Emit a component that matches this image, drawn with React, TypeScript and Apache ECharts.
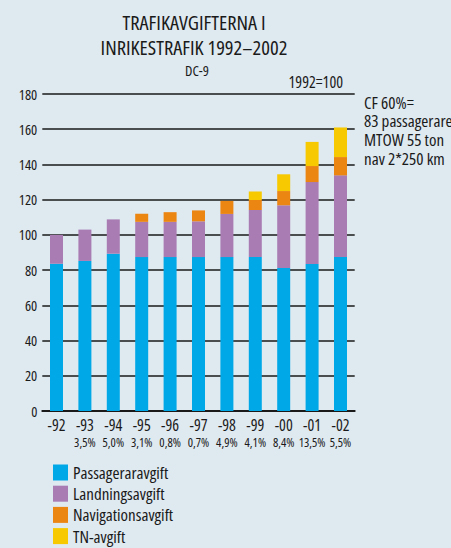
import React, { useEffect, useRef } from "react";
import * as echarts from "echarts";

const years = ["-92", "-93", "-94", "-95", "-96", "-97", "-98", "-99", "-00", "-01", "-02"];
const changes = ["", "3,5%", "5,0%", "3,1%", "0,8%", "0,7%", "4,9%", "4,1%", "8,4%", "13,5%", "5,5%"];
const passagerar = [83.6, 85.2, 89.3, 87.4, 87.4, 87.4, 87.4, 87.4, 81.2, 83.5, 87.4];
const landning = [16.4, 17.8, 19.5, 20.0, 20.0, 20.3, 24.5, 26.7, 35.6, 46.5, 46.4];
const navigation = [0, 0, 0, 4.6, 5.5, 6.2, 7.4, 5.7, 8.1, 9.1, 10.4];
const tn = [0, 0, 0, 0, 0, 0, 0, 4.8, 9.5, 13.7, 16.8];
const yTicks = [0, 20, 40, 60, 80, 100, 120, 140, 160, 180];
const seriesNames = ["Passageraravgift", "Landningsavgift", "Navigationsavgift", "TN-avgift"];
const seriesColors = ["#00a8e8", "#a97db4", "#ec8613", "#f6c900"];
const noteLines = ["CF 60%=", "83 passagerare", "MTOW 55 ton", "nav 2*250 km"];

const FONT = "'Open Sans', sans-serif";
const INK = "#1a1a1a";

export default function App() {
  const ref = useRef<HTMLDivElement>(null);
  useEffect(() => {
    if (!ref.current) return;
    const chart = echarts.init(ref.current, null, { renderer: "svg" });
    const data = [passagerar, landning, navigation, tn];
    const txt = (text: string, x: number, y: number, size: number, align: string) => ({
      type: "text",
      x,
      y,
      style: { text, fontFamily: FONT, fontSize: size, fill: INK, align, verticalAlign: "middle" },
    });
    chart.setOption({
      animation: false,
      backgroundColor: "#dfe9f0",
      textStyle: { fontFamily: FONT },
      grid: { left: 42.3, right: 96.3, top: 94, bottom: 137 },
      xAxis: {
        type: "category",
        data: years,
        boundaryGap: true,
        axisLine: { lineStyle: { color: INK, width: 2 } },
        axisTick: {
          inside: true,
          length: 7,
          lineStyle: { color: INK, width: 1.5 },
          interval: (i: number) => i > 0,
        },
        axisLabel: {
          interval: 0,
          margin: 4,
          formatter: (v: string, i: number) => `{a|${v}}\n{b|${changes[i] || " "}}`,
          rich: {
            a: { fontFamily: FONT, fontSize: 16, color: INK, lineHeight: 19 },
            b: { fontFamily: FONT, fontSize: 12.5, color: INK, lineHeight: 16 },
          },
        },
      },
      yAxis: {
        type: "value",
        min: yTicks[0],
        max: yTicks[yTicks.length - 1],
        interval: 20,
        axisLine: { show: false },
        axisTick: { show: false },
        axisLabel: { fontFamily: FONT, fontSize: 14.5, color: INK, margin: 5 },
        splitLine: { lineStyle: { color: INK, width: 1.5 } },
      },
      legend: {
        orient: "vertical",
        left: 53,
        top: 464,
        height: 140,
        padding: 0,
        icon: "rect",
        itemWidth: 15,
        itemHeight: 16,
        itemGap: 4.2,
        data: seriesNames,
        textStyle: { fontFamily: FONT, fontSize: 17, lineHeight: 16, color: INK },
      },
      series: seriesNames.map((name, k) => ({
        name,
        type: "bar",
        stack: "total",
        barWidth: 13,
        itemStyle: { color: seriesColors[k] },
        data: data[k],
      })),
      graphic: [
        txt("TRAFIKAVGIFTERNA I", 194, 22, 20.5, "center"),
        txt("INRIKESTRAFIK 1992–2002", 194, 47, 20.5, "center"),
        txt("DC-9", 197, 70, 14.5, "center"),
        txt("1992=100", 343, 82, 16, "right"),
        ...noteLines.map((t, i) => txt(t, 364, 102 + i * 18.7, 17, "left")),
      ],
    });
    return () => chart.dispose();
  }, []);
  return (
    <>
      <style>{`#root svg text, #root svg tspan { font-stretch: 75% !important; }`}</style>
      <div ref={ref} style={{ width: 451, height: 548, position: "absolute", left: 0, top: 0 }} />
    </>
  );
}
